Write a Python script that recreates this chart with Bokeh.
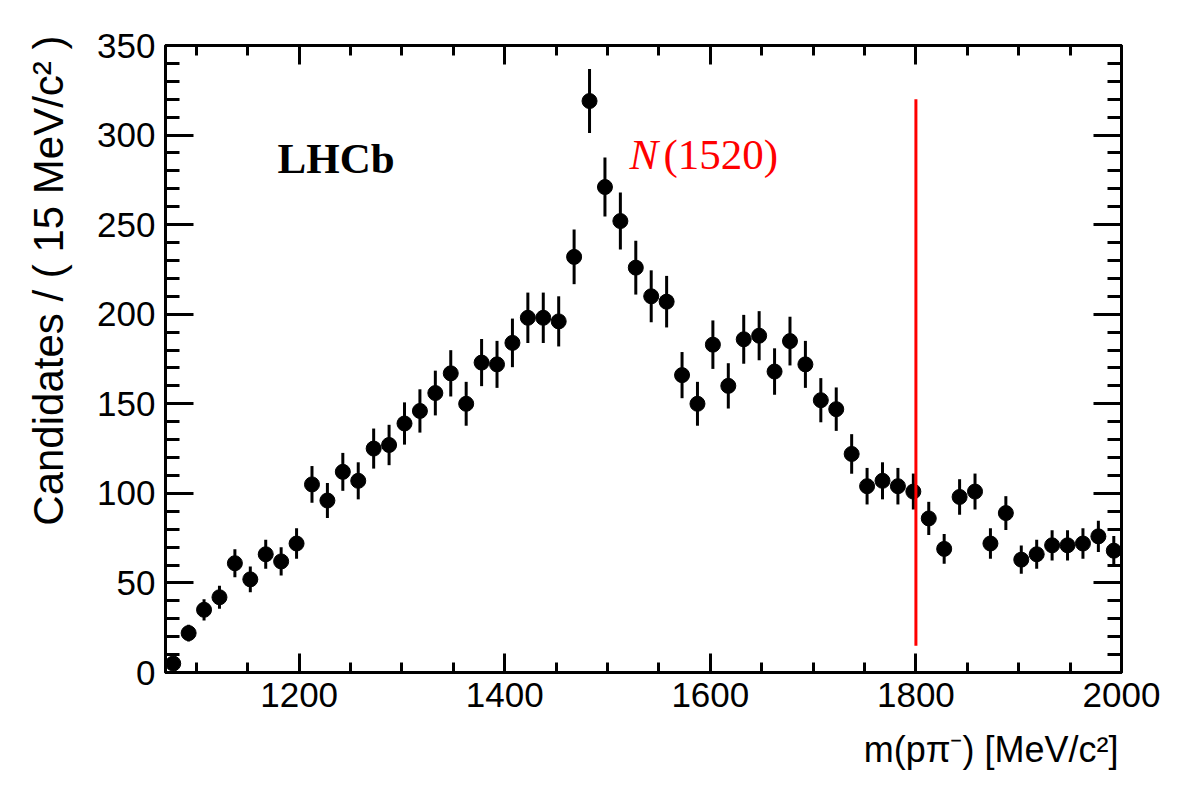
import numpy as np
from bokeh.plotting import figure
from bokeh.models import FixedTicker, LinearAxis, Label, Range1d, CustomJSTickFormatter, ColumnDataSource, Title
from bokeh.embed import file_html
from bokeh.resources import INLINE

# ---- data ----
bin_low = 1070.0
bin_width = 15.0
counts = [5, 22, 35, 42, 61, 52, 66, 62, 72, 105,
          96, 112, 107, 125, 127, 139, 146, 156, 167, 150,
          173, 172, 184, 198, 198, 196, 232, 319, 271, 252,
          226, 210, 207, 166, 150, 183, 160, 186, 188, 168,
          185, 172, 152, 147, 122, 104, 107, 104, 101, 86,
          69, 98, 101, 72, 89, 63, 66, 71, 71, 72,
          76, 68]
x_major_ticks = [1200, 1400, 1600, 1800, 2000]
x_minor_ticks = [1100, 1150, 1250, 1300, 1350, 1450, 1500, 1550, 1650, 1700, 1750, 1850, 1900, 1950]
y_major_ticks = [0, 50, 100, 150, 200, 250, 300, 350]
y_minor_ticks = [v for v in range(10, 350, 10) if v % 50 != 0]
marker_line_x = [1800]
marker_line_y0 = [15]
marker_line_y1 = [320]
x_range = (1070, 2000)
y_range = (0, 350)

n = len(counts)
centers = bin_low + bin_width * (np.arange(n) + 0.5)
y = np.array(counts, dtype=float)
err = np.sqrt(y)

src = ColumnDataSource(dict(x=centers, y=y, lo=y - err, hi=y + err))

p = figure(width=1182, height=800, x_range=Range1d(*x_range), y_range=Range1d(*y_range),
           output_backend="svg", toolbar_location=None,
           min_border_left=165, min_border_right=61, min_border_top=45, min_border_bottom=128)
p.background_fill_color = "white"
p.border_fill_color = "white"
p.grid.visible = False
p.outline_line_color = "black"
p.outline_line_width = 3

bottom_ax = p.below[0]
left_ax = p.left[0]

xt = FixedTicker(ticks=x_major_ticks, minor_ticks=x_minor_ticks)
yt = FixedTicker(ticks=y_major_ticks, minor_ticks=y_minor_ticks)
blank = CustomJSTickFormatter(code="return ''")

top_ax = LinearAxis(ticker=xt, formatter=blank)
right_ax = LinearAxis(ticker=yt, formatter=blank)
p.add_layout(top_ax, "above")
p.add_layout(right_ax, "right")

for ax in [bottom_ax, top_ax]:
    ax.ticker = xt
    ax.major_tick_in = 19
    ax.major_tick_out = 0
    ax.minor_tick_in = 10
    ax.minor_tick_out = 0
for ax in [left_ax, right_ax]:
    ax.ticker = yt
    ax.major_tick_in = 28
    ax.major_tick_out = 0
    ax.minor_tick_in = 14
    ax.minor_tick_out = 0
for ax in [bottom_ax, top_ax, left_ax, right_ax]:
    ax.axis_line_width = 3
    ax.major_tick_line_width = 3
    ax.minor_tick_line_width = 3
    ax.axis_line_color = "black"
    ax.major_tick_line_color = "black"
    ax.minor_tick_line_color = "black"
    ax.major_label_text_font = "Liberation Sans"
    ax.major_label_text_font_size = "35px"
    ax.major_label_text_color = "black"
    ax.axis_label = None
bottom_ax.major_label_standoff = 10
left_ax.major_label_standoff = 10
top_ax.major_label_text_font_size = "1px"
right_ax.major_label_text_font_size = "1px"

# error bars and points
p.segment(x0="x", y0="lo", x1="x", y1="hi", source=src, line_color="black", line_width=3)
p.scatter(x="x", y="y", source=src, size=15, fill_color="black", line_color="black", marker="circle")

# red marker line
p.segment(x0=marker_line_x, y0=marker_line_y0, x1=marker_line_x, y1=marker_line_y1,
          line_color="#ff0000", line_width=3)

# texts inside the frame
p.add_layout(Label(x=1179, y=287, text="LHCb", text_font="Liberation Serif", text_font_style="bold",
                   text_font_size="43px", text_color="black", text_baseline="alphabetic"))
p.add_layout(Label(x=1521.4, y=289, text="N", text_font="Liberation Serif", text_font_style="italic",
                   text_font_size="43px", text_color="#ff0000", text_baseline="alphabetic"))
p.add_layout(Label(x=1554.5, y=289, text="(1520)", text_font="Liberation Serif",
                   text_font_size="43px", text_color="#ff0000", text_baseline="alphabetic"))

# axis titles as side-panel titles
x_title = Title(text="m(pπ⁻) [MeV/c²]", align="right", text_font="Liberation Sans", text_font_size="36px",
                text_font_style="normal", text_color="black", standoff=34, offset=3)
p.add_layout(x_title, "below")

y_title = Title(text="Candidates / ( 15 MeV/c² )", align="right", vertical_align="top",
                text_font="Liberation Sans", text_font_size="42px", text_font_style="normal",
                text_color="black", standoff=42, offset=-10)
p.add_layout(y_title, "left")

open("out.html", "w").write(file_html(p, INLINE))
